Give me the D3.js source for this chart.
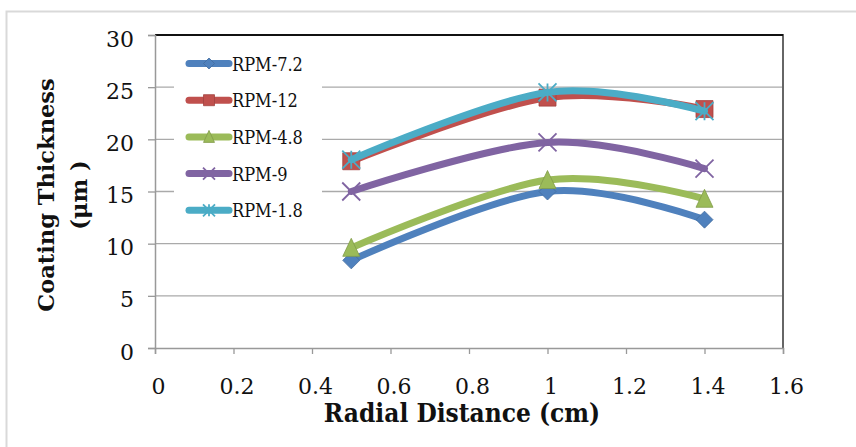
<!DOCTYPE html>
<html><head><meta charset="utf-8">
<script src="https://cdn.jsdelivr.net/npm/d3@7"></script>
<style>body{margin:0;background:#fff}svg{display:block}</style>
</head><body>
<script>
const xValues = [0.5, 1.0, 1.4];
const seriesNames = ["RPM-7.2", "RPM-12", "RPM-4.8", "RPM-9", "RPM-1.8"];
const rpm72 = [8.4, 15.0, 12.3];
const rpm12 = [17.9, 24.0, 22.9];
const rpm48 = [9.6, 16.1, 14.3];
const rpm9  = [15.0, 19.7, 17.2];
const rpm18 = [18.05, 24.5, 22.7];
const seriesColors = ["#4F81BD", "#C0504D", "#9BBB59", "#8064A2", "#4BACC6"];
const seriesMarkers = ["diamond", "square", "triangle", "x", "star"];
const xTicks = [0, 0.2, 0.4, 0.6, 0.8, 1, 1.2, 1.4, 1.6];
const yTicks = [0, 5, 10, 15, 20, 25, 30];

const seriesValues = [rpm72, rpm12, rpm48, rpm9, rpm18];
const W = 856, H = 447;
const m = {l: 155, r: 856 - 783, t: 35, b: 447 - 348};
const svg = d3.select("body").append("svg").attr("width", W).attr("height", H);
const SERIF = "'DejaVu Serif', serif";

// outer frame
svg.append("path").attr("d", `M6.5,${H} V11.5 H${W}`).attr("fill", "none").attr("stroke", "#d9d9d9").attr("stroke-width", 2);

const x = d3.scaleLinear().domain([0, 1.6]).range([m.l, W - m.r]);
const y = d3.scaleLinear().domain([0, 30]).range([H - m.b, m.t]);

// gridlines
svg.append("g").selectAll("line").data(yTicks.filter(t => t > 0 && t < 30)).join("line")
  .attr("x1", x(0)).attr("x2", x(1.6)).attr("y1", d => y(d)).attr("y2", d => y(d))
  .attr("stroke", "#aaaaaa").attr("stroke-width", 1.3);

// plot border top/right
svg.append("path").attr("d", `M${x(0)},${y(30)} H${x(1.6)} V${y(0)}`)
  .attr("fill", "none").attr("stroke", "#666").attr("stroke-width", 2);
svg.append("line").attr("x1", x(0)).attr("x2", x(1.6)).attr("y1", y(30)).attr("y2", y(30))
  .attr("stroke", "#111").attr("stroke-width", 2);

// axes
const xAxis = svg.append("g").attr("transform", `translate(0,${y(0)})`)
  .call(d3.axisBottom(x).tickValues(xTicks).tickSize(6).tickPadding(24).tickFormat(d => String(d)));
const yAxis = svg.append("g").attr("transform", `translate(${x(0)},0)`)
  .call(d3.axisLeft(y).tickValues(yTicks).tickSize(7).tickPadding(14));
[xAxis, yAxis].forEach(g => {
  g.select(".domain").attr("stroke", "#999").attr("stroke-width", 1.5);
  g.selectAll(".tick line").attr("stroke", "#999").attr("stroke-width", 1.3);
  g.selectAll("text").attr("font-family", SERIF).attr("font-size", 22).attr("fill", "#111");
});
yAxis.selectAll("text").attr("dy", "0.5em");
xAxis.selectAll("text").attr("dx", 3);

// legend background
svg.append("rect").attr("x", 174).attr("y", 45).attr("width", 148).attr("height", 185).attr("fill", "#fff");

function markerPath(type, s) {
  const h = s / 2;
  switch (type) {
    case "diamond": return `M0,${-h}L${h},0L0,${h}L${-h},0Z`;
    case "square": return `M${-h},${-h}H${h}V${h}H${-h}Z`;
    case "triangle": return `M0,${-h-1}L${h},${h}L${-h},${h}Z`;
    case "x": return `M${-h},${-h}L${h},${h}M${h},${-h}L${-h},${h}`;
    case "star": return `M${-h},${-h}L${h},${h}M${h},${-h}L${-h},${h}M0,${-h}V${h}`;
  }
}
function drawMarker(g, type, color, cx, cy, s) {
  const stroke = (type === "x" || type === "star");
  g.append("path").attr("d", markerPath(type, s)).attr("transform", `translate(${cx},${cy})`)
    .attr("fill", stroke ? "none" : color)
    .attr("stroke", stroke ? color : d3.color(color).darker(0.5))
    .attr("stroke-width", stroke ? 1.8 : 0.8)
    .attr("stroke-linejoin", "round");
}

const line = d3.line().x(d => x(d[0])).y(d => y(d[1])).curve(d3.curveCardinal.tension(0));

seriesValues.forEach((vals, i) => {
  const pts = xValues.map((xv, j) => [xv, vals[j]]);
  const g = svg.append("g");
  g.append("path").datum(pts).attr("d", line).attr("fill", "none")
    .attr("stroke", seriesColors[i]).attr("stroke-width", 7).attr("stroke-linecap", "round");
  const s = seriesMarkers[i] === "x" || seriesMarkers[i] === "star" ? 18 : 17;
  pts.forEach(p => drawMarker(g, seriesMarkers[i], seriesColors[i], x(p[0]), y(p[1]), s));
});

// legend
seriesNames.forEach((name, i) => {
  const cy = 63.5 + i * 36.7;
  const g = svg.append("g");
  g.append("line").attr("x1", 189).attr("x2", 229).attr("y1", cy).attr("y2", cy)
    .attr("stroke", seriesColors[i]).attr("stroke-width", 7).attr("stroke-linecap", "round");
  const s = seriesMarkers[i] === "x" || seriesMarkers[i] === "star" ? 12 : 11;
  drawMarker(g, seriesMarkers[i], seriesColors[i], 209, cy, s);
  g.append("text").attr("x", 232).attr("y", cy + 7).text(name)
    .attr("font-family", "'DejaVu Serif Condensed', 'DejaVu Serif', serif").attr("font-size", 18).attr("fill", "#111");
});

// axis titles
svg.append("text").attr("x", 462).attr("y", 422).attr("text-anchor", "middle")
  .attr("font-family", "'DejaVu Serif Condensed', 'DejaVu Serif', serif").attr("font-weight", "bold").attr("font-size", 26)
  .attr("fill", "#111").text("Radial Distance (cm)");
const yt = svg.append("text").attr("transform", "translate(54,195) rotate(-90)").attr("text-anchor", "middle")
  .attr("font-family", SERIF).attr("font-weight", "bold").attr("font-size", 22.5).attr("fill", "#111");
yt.append("tspan").attr("x", 0).attr("dy", 0).text("Coating Thickness");
yt.append("tspan").attr("x", 0).attr("dy", 33).text("(μm )");
</script>
</body></html>
